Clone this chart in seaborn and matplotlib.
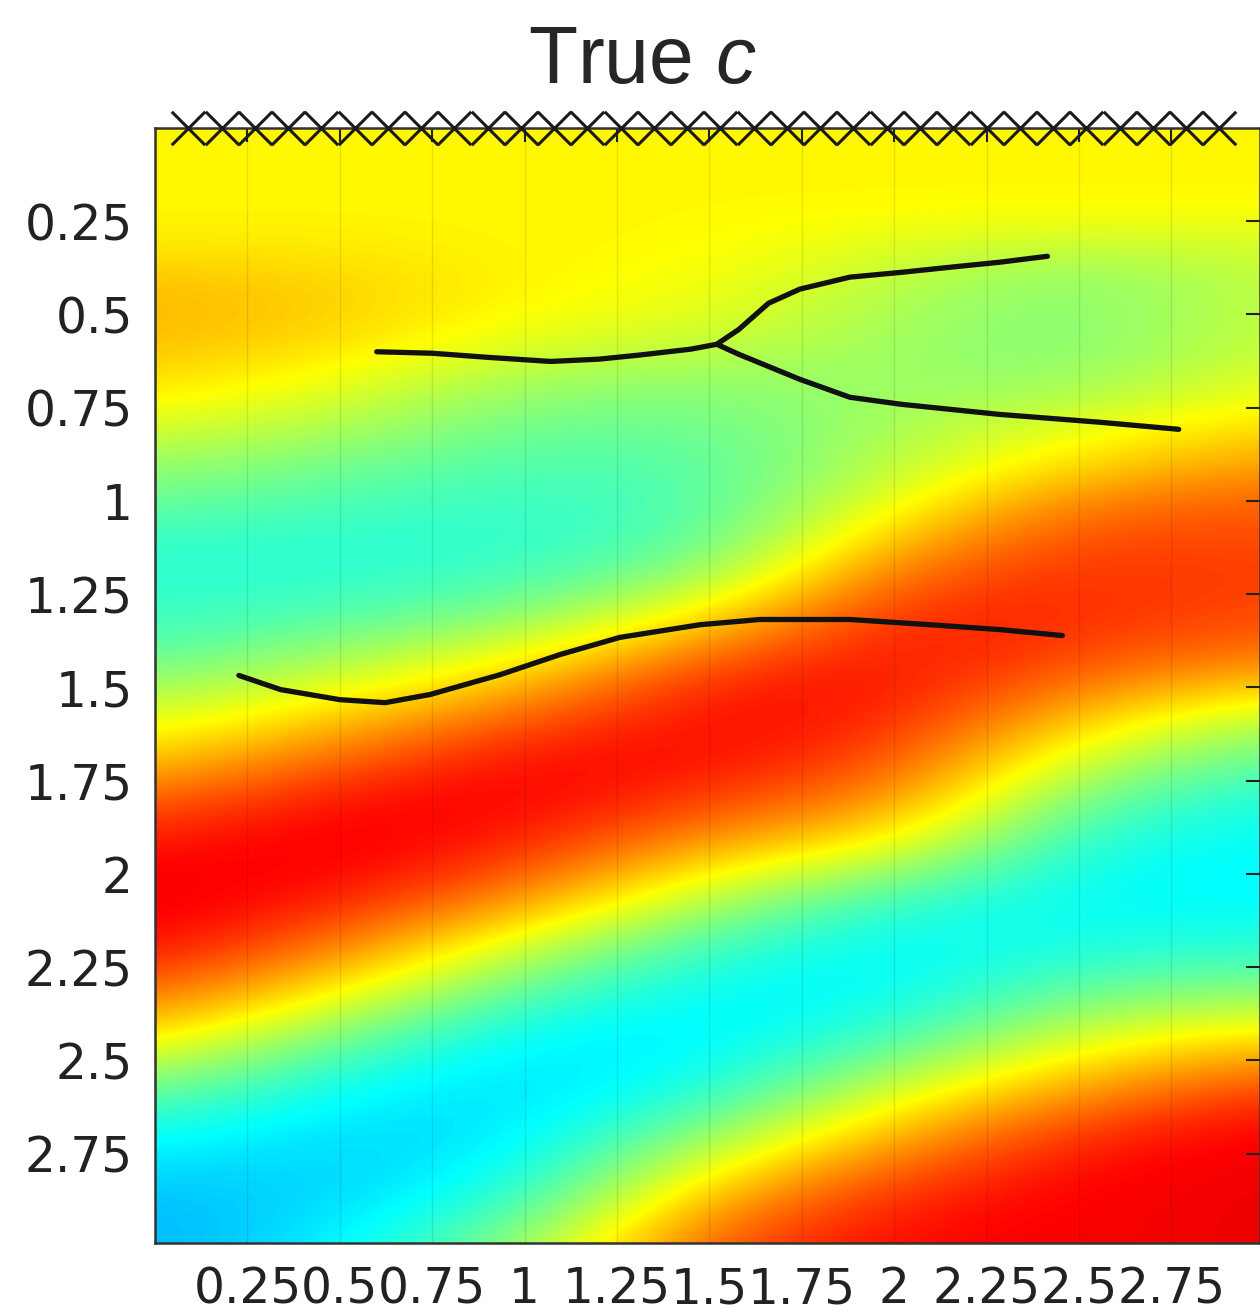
import numpy as np
import pandas as pd
import seaborn as sns
import matplotlib.pyplot as plt
from matplotlib.colors import ListedColormap

# depth samples (rows) and lateral positions (columns) of the velocity field
z_rows = [0.0, 0.1, 0.2, 0.3, 0.4, 0.5, 0.6, 0.7, 0.8, 0.9, 1.0,
          1.1, 1.2, 1.3, 1.4, 1.5, 1.6, 1.7, 1.8, 1.9, 2.0,
          2.1, 2.2, 2.3, 2.4, 2.5, 2.6, 2.7, 2.8, 2.9, 3.0]
x_cols = [0.0, 0.5, 1.0, 1.5, 2.0, 2.5, 3.0]

# field values (on the jet scale) read column by column
c_x00 = [.63, .63, .63, .64, .68, .70, .68, .65, .59, .53, .48,
         .43, .42, .43, .46, .53, .60, .68, .77, .84, .88,
         .89, .86, .79, .70, .58, .47, .39, .34, .31, .30]
c_x05 = [.63, .63, .63, .64, .665, .67, .65, .60, .55, .49, .45,
         .42, .42, .45, .52, .60, .69, .78, .86, .89, .88,
         .83, .75, .65, .53, .43, .37, .34, .33, .34, .36]
c_x10 = [.63, .63, .63, .63, .63, .62, .58, .52, .48, .45, .43,
         .42, .44, .50, .60, .70, .80, .87, .88, .85, .79,
         .69, .57, .47, .39, .35, .34, .35, .38, .44, .52]
c_x15 = [.63, .63, .63, .63, .62, .60, .56, .51, .48, .46, .45,
         .46, .52, .64, .76, .85, .87, .86, .81, .73, .62,
         .52, .43, .38, .36, .37, .42, .52, .63, .73, .80]
c_x20 = [.63, .63, .63, .60, .56, .54, .53, .53, .54, .56, .61,
         .69, .78, .84, .86, .86, .84, .80, .74, .65, .52,
         .41, .37, .37, .41, .50, .61, .70, .79, .85, .87]
c_x25 = [.63, .63, .63, .58, .51, .50, .50, .53, .60, .66, .75,
         .81, .83, .83, .81, .75, .66, .57, .48, .41, .38,
         .38, .41, .47, .56, .65, .74, .83, .87, .88, .88]
c_x30 = [.63, .63, .63, .59, .57, .57, .58, .61, .66, .72, .78,
         .80, .81, .80, .76, .66, .54, .46, .40, .38, .37,
         .38, .42, .50, .61, .73, .83, .88, .89, .89, .89]

# receivers along the surface
rec_x = [0.09, 0.18, 0.27, 0.36, 0.45, 0.54, 0.63, 0.72, 0.81, 0.90,
         0.99, 1.08, 1.17, 1.26, 1.35, 1.44, 1.53, 1.62, 1.71, 1.80,
         1.89, 1.98, 2.07, 2.16, 2.25, 2.34, 2.43, 2.52, 2.61, 2.70,
         2.79, 2.88]
rec_z = [0.0] * len(rec_x)

# reflectors
refl_top_x = [0.60, 0.75, 0.90, 1.07, 1.20, 1.31, 1.45, 1.52, 1.58, 1.66, 1.745, 1.88, 2.02, 2.155, 2.285, 2.415]
refl_top_z = [0.600, 0.604, 0.615, 0.626, 0.620, 0.609, 0.593, 0.580, 0.540, 0.470, 0.432, 0.400, 0.387, 0.373, 0.360, 0.344]
refl_branch_x = [1.52, 1.58, 1.745, 1.88, 2.02, 2.285, 2.556, 2.77]
refl_branch_z = [0.580, 0.607, 0.674, 0.722, 0.741, 0.768, 0.789, 0.808]
refl_low_x = [0.227, 0.34, 0.50, 0.623, 0.745, 0.934, 1.096, 1.258, 1.475, 1.637, 1.88, 2.096, 2.285, 2.455]
refl_low_z = [1.468, 1.506, 1.533, 1.541, 1.519, 1.466, 1.412, 1.366, 1.332, 1.318, 1.318, 1.332, 1.345, 1.361]

xtick_vals = [0.25, 0.5, 0.75, 1, 1.25, 1.5, 1.75, 2, 2.25, 2.5, 2.75]
xtick_text = ["0.25", "0.5", "0.75", "1", "1.25", "1.5", "1.75", "2", "2.25", "2.5", "2.75"]

sns.set_style("white")
plt.rcParams['font.family'] = ['DejaVu Sans']
plt.rcParams['mathtext.fontset'] = 'custom'
plt.rcParams['mathtext.rm'] = 'Liberation Sans'
plt.rcParams['mathtext.it'] = 'Liberation Sans:italic'

# MATLAB style jet
v = np.linspace(0, 1, 256)
jet_rgb = np.stack([np.clip(1.5 - np.abs(4 * v - 3), 0, 1),
                    np.clip(1.5 - np.abs(4 * v - 2), 0, 1),
                    np.clip(1.5 - np.abs(4 * v - 1), 0, 1)], axis=1)
mjet = ListedColormap(jet_rgb)

field = pd.DataFrame({x: col for x, col in zip(x_cols, [c_x00, c_x05, c_x10, c_x15, c_x20, c_x25, c_x30])},
                     index=z_rows)

fig = plt.figure(figsize=(12.6, 13.16), dpi=100)
ax = fig.add_axes([155 / 1260, 73 / 1316, 1105 / 1260, 1115 / 1316])

dx = 0.25
dz = 0.05
ax.imshow(field.values, cmap=mjet, vmin=0, vmax=1, aspect='auto', interpolation='bicubic',
          extent=(x_cols[0] - dx, x_cols[-1] + dx, z_rows[-1] + dz, z_rows[0] - dz))

for xs, zs in [(refl_top_x, refl_top_z), (refl_branch_x, refl_branch_z), (refl_low_x, refl_low_z)]:
    sns.lineplot(x=xs, y=zs, sort=False, estimator=None, color='#111111', lw=3.8, ax=ax)

sns.scatterplot(x=rec_x, y=rec_z, marker='x', s=580, color='#1a1a1a', linewidth=2.2,
                clip_on=False, zorder=5, ax=ax)

ax.set_xlim(0, 2.99)
ax.set_ylim(2.99, 0)
ax.set_xticks(xtick_vals)
ax.set_xticklabels(xtick_text)
ax.set_yticks(xtick_vals)
ax.set_yticklabels(xtick_text)
ax.tick_params(direction='in', length=10, width=1.5, top=True, right=True,
               labelsize=35, pad=16, colors='#222222')
ax.grid(axis='x', color='k', alpha=0.1, lw=1)
ax.grid(axis='y', visible=False)
for sp in ax.spines.values():
    sp.set_color('#333333')
    sp.set_linewidth(1.8)

fig.text(0.51, 1 - 83 / 1316, r"True $c$", ha='center', va='baseline',
         fontsize=58, family='Liberation Sans')

fig.savefig("out.png", dpi=100)
